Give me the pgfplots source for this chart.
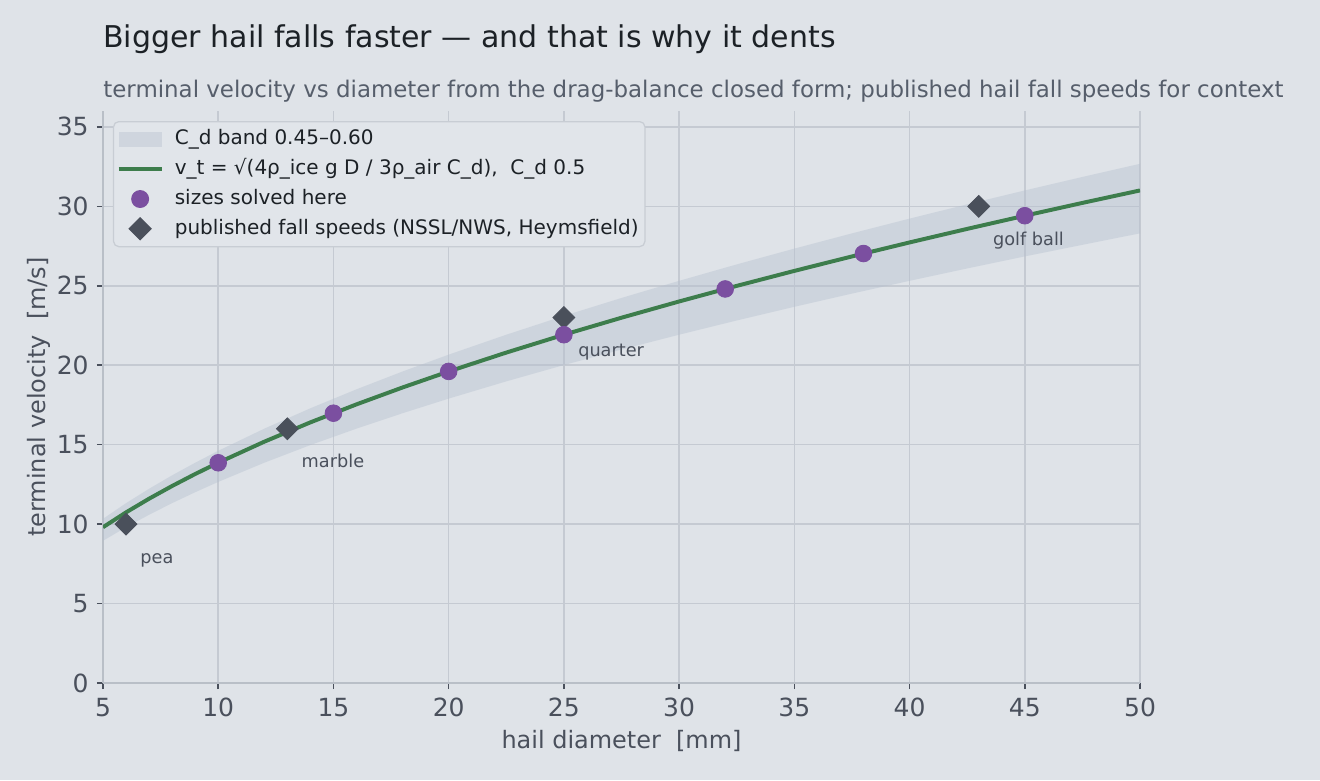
\documentclass[border=0pt]{standalone}
\usepackage{pgfplots}
\pgfplotsset{compat=1.18}
\usepackage{fontspec}
\setmainfont{DejaVu Sans}

\definecolor{bgc}{HTML}{DFE3E8}
\definecolor{bandc}{HTML}{B4BFCE}
\definecolor{gridc}{HTML}{C5CAD2}
\definecolor{spinec}{HTML}{B9BFC7}
\definecolor{tickc}{HTML}{4A505C}
\definecolor{linec}{HTML}{3D7D4C}
\definecolor{dotc}{HTML}{7B4FA0}
\definecolor{diamc}{HTML}{4A505B}
\definecolor{titlec}{HTML}{1C2126}
\definecolor{subc}{HTML}{565E6B}
\definecolor{legedge}{HTML}{C8CDD4}
\definecolor{legfill}{HTML}{E1E5EA}

\begin{document}
\begin{tikzpicture}
\fill[bgc] (0pt,0pt) rectangle (633.6pt,374.4pt);
\node[anchor=base west, inner sep=0pt, text=titlec, font=\fontsize{14.4}{17}\selectfont]
  at (49.44pt,351.36pt) {Bigger hail falls faster — and that is why it dents};
\node[anchor=base west, inner sep=0pt, text=subc, font=\fontsize{11}{13}\selectfont]
  at (49.44pt,327.36pt) {terminal velocity vs diameter from the drag-balance closed form; published hail fall speeds for context};

\begin{axis}[
    at={(49.44pt,46.56pt)}, anchor=south west,
    width=497.76pt, height=274.56pt, scale only axis,
    xmin=5, xmax=50, ymin=0, ymax=36,
    xtick={5,10,...,50}, ytick={0,5,...,35},
    axis x line=bottom, axis y line=left,
    axis line style={-, color=spinec, line width=0.75pt},
    tick align=outside, major tick length=2.9pt,
    tick style={color=tickc, line width=0.7pt},
    grid=major, major grid style={color=gridc, line width=0.7pt},
    /pgf/number format/assume math mode=true,
    ticklabel style={font=\fontsize{12}{14}\selectfont, text=tickc, inner sep=0pt},
    xticklabel style={anchor=north, yshift=-4.2pt},
    yticklabel style={anchor=east, xshift=-3.8pt},
    xlabel={hail diameter\ \ [mm]},
    ylabel={terminal velocity\ \ [m/s]},
    label style={font=\fontsize{11.5}{13}\selectfont, text=tickc, inner sep=0pt},
    xlabel style={at={([yshift=-31.2pt]axis description cs:0.5,0)}, anchor=base},
    ylabel style={at={([xshift=-27.8pt]axis description cs:0,0.5)}, anchor=base, rotate=0},
    legend style={at={(0.0096,0.9825)}, anchor=north west,
      draw=legedge, fill=legfill, rounded corners=2.5pt, line width=0.6pt,
      font=\fontsize{9.6}{11.5}\selectfont, text=titlec,
      inner xsep=1.5pt, inner ysep=2.4pt,
      nodes={inner sep=1.5pt, text height=7.2pt, text depth=2.1pt},
      row sep=2pt, column sep=3.9pt},
    legend cell align=left,
]
% C_d band: upper edge (C_d 0.45), then lower edge (C_d 0.60) reversed
\addplot[forget plot, fill=bandc, fill opacity=0.4, draw=none]
  coordinates {
  (5,10.333) (6,11.320) (7,12.226) (8,13.071) (9,13.863) (10,14.613)
  (12,16.008) (14,17.291) (16,18.484) (18,19.606) (20,20.666) (22.5,21.920)
  (25,23.106) (27.5,24.234) (30,25.311) (32.5,26.345) (35,27.339) (37.5,28.298)
  (40,29.227) (42.5,30.126) (45,31.000) (47.5,31.849) (50,32.677)
  (50,28.299) (47.5,27.576) (45,26.847) (42.5,26.090) (40,25.311) (37.5,24.507)
  (35,23.676) (32.5,22.815) (30,21.920) (27.5,20.987) (25,20.010) (22.5,18.983)
  (20,17.898) (18,16.979) (16,16.008) (14,14.975) (12,13.864) (10,12.655)
  (9,12.006) (8,11.320) (7,10.588) (6,9.803) (5,8.949)
  } -- cycle;
\addlegendimage{draw=none, legend image code/.code={\path[fill=bandc, fill opacity=0.4, draw=none, sharp corners] (0pt,-3.7pt) rectangle (20.6pt,3.7pt);}}
\addlegendentry{C\_d band 0.45–0.60}

\addplot[color=linec, line width=1.9pt,
  legend image code/.code={\draw[sharp corners] (0pt,0pt) -- (20.6pt,0pt);}]
  coordinates {
  (5,9.803) (6,10.739) (7,11.599) (8,12.400) (9,13.152) (10,13.863)
  (12,15.187) (14,16.404) (16,17.536) (18,18.600) (20,19.606) (22.5,20.795)
  (25,21.920) (27.5,22.990) (30,24.012) (32.5,24.993) (35,25.936) (37.5,26.846)
  (40,27.727) (42.5,28.580) (45,29.409) (47.5,30.215) (50,31.000)
  };
\addlegendentry{v\_t = √(4ρ\_ice g D / 3ρ\_air C\_d),\ \ C\_d 0.5}

\addlegendimage{only marks, mark=*, mark size=4pt, color=dotc,
  legend image code/.code={\draw[mark repeat=2, mark phase=2] plot coordinates {(0pt,0pt) (10.3pt,0pt) (20.6pt,0pt)};}}
\addlegendentry{sizes solved here}
\addlegendimage{only marks, mark=square*, mark options={rotate=45}, mark size=3.7pt, color=diamc,
  legend image code/.code={\draw[mark repeat=2, mark phase=2] plot coordinates {(0pt,0pt) (10.3pt,0pt) (20.6pt,0pt)};}}
\addlegendentry{published fall speeds (NSSL/NWS, Heymsfield)}

\addplot[forget plot, only marks, mark=square*, mark options={rotate=45}, mark size=3.7pt, color=diamc]
  coordinates {(6,10) (13,16) (25,23) (43,30)};
\addplot[forget plot, only marks, mark=*, mark size=4pt, color=dotc]
  coordinates {(10,13.86) (15,16.98) (20,19.61) (25,21.92) (32,24.80) (38,27.03) (45,29.41)};

\begin{scope}[every node/.style={anchor=base west, inner sep=0pt, text=tickc,
    font=\fontsize{8.5}{10}\selectfont, xshift=6.7pt, yshift=-18.7pt}]
\node at (axis cs:6,10) {pea};
\node at (axis cs:13,16) {marble};
\node at (axis cs:25,23) {quarter};
\node at (axis cs:43,30) {golf ball};
\end{scope}
\end{axis}
\end{tikzpicture}
\end{document}
